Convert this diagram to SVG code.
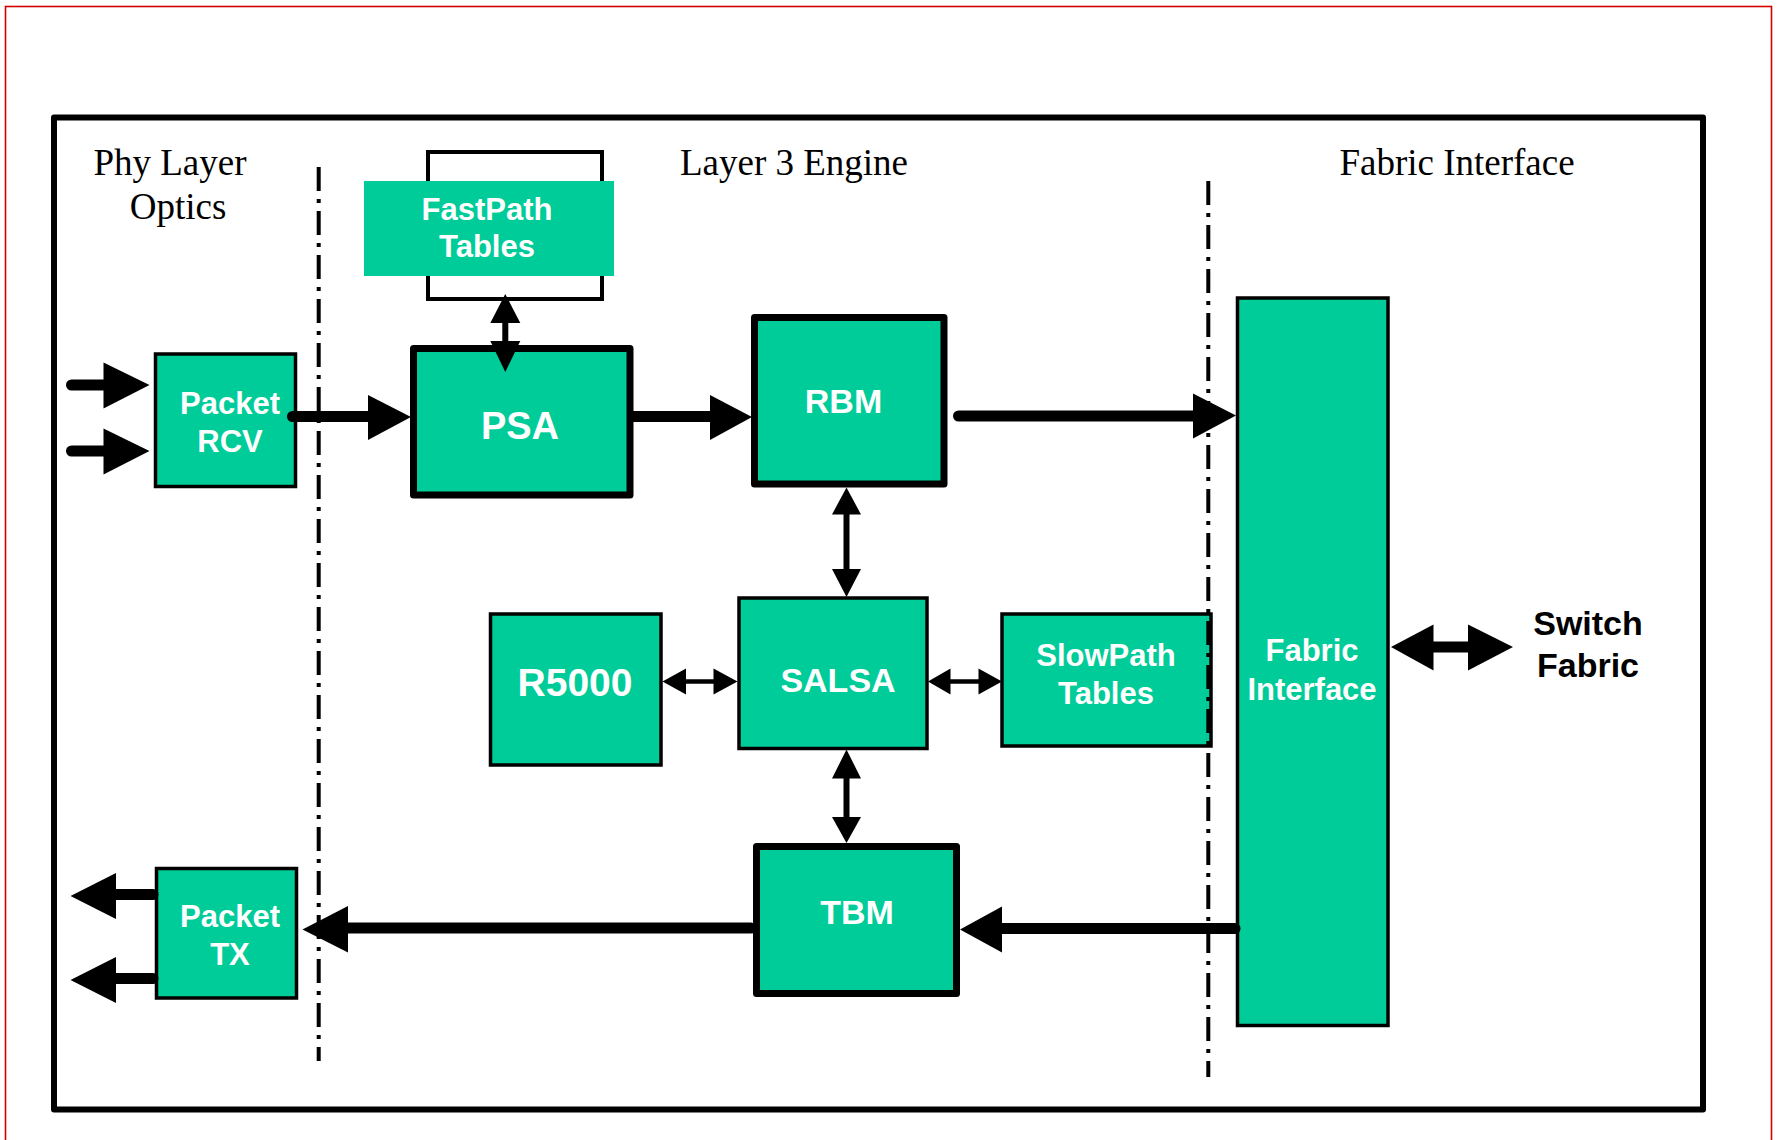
<svg xmlns="http://www.w3.org/2000/svg" width="1784" height="1140" viewBox="0 0 1784 1140">
  <style>
    .blk { fill: #00cc99; stroke: #000; stroke-width: 3.5; }
    .blk-thick { fill: #00cc99; stroke: #000; stroke-width: 7; stroke-linejoin: round; }
    .lbl { font-family: "Liberation Sans", Arial, sans-serif; font-weight: bold; fill: #fff; text-anchor: middle; }
    .hdr { font-family: "Liberation Serif", "Times New Roman", serif; font-size: 37px; fill: #000; text-anchor: middle; }
    .ext { font-family: "Liberation Sans", Arial, sans-serif; font-weight: bold; font-size: 34px; fill: #000; text-anchor: middle; }
    .divider { stroke: #000; stroke-width: 4; stroke-dasharray: 24 8 4 8; fill: none; }
    .wire { stroke: #000; stroke-width: 11; stroke-linecap: round; fill: none; }
    .wire-mid { stroke: #000; stroke-width: 6; fill: none; }
    .wire-thin { stroke: #000; stroke-width: 4.5; fill: none; }
    .head { fill: #000; stroke: none; }
  </style>

  <rect width="1784" height="1140" fill="#fff"/>

  <!-- page border -->
  <rect x="5.5" y="6.5" width="1766" height="1150" fill="none" stroke="#d40000" stroke-width="1.6"/>

  <!-- line card frame -->
  <rect x="54" y="117.5" width="1649" height="992" fill="none" stroke="#000" stroke-width="6" stroke-linejoin="round"/>

  <!-- section headings -->
  <g id="headings">
    <text class="hdr" x="170" y="175">Phy Layer</text>
    <text class="hdr" x="178" y="219">Optics</text>
    <text class="hdr" x="794" y="175">Layer 3 Engine</text>
    <text class="hdr" x="1457" y="175">Fabric Interface</text>
  </g>

  <!-- blocks -->
  <g id="fastpath-tables">
    <rect x="428" y="152" width="174" height="147" fill="#fff" stroke="#000" stroke-width="4"/>
    <rect x="364" y="181" width="250" height="95" fill="#00cc99"/>
    <text class="lbl" font-size="31" x="487" y="220">FastPath</text>
    <text class="lbl" font-size="31" x="487" y="256.5">Tables</text>
  </g>

  <g id="packet-rcv">
    <rect class="blk" x="155.5" y="354" width="140" height="132.5"/>
    <text class="lbl" font-size="31" x="230" y="414">Packet</text>
    <text class="lbl" font-size="31" x="230" y="452">RCV</text>
  </g>

  <g id="psa">
    <rect class="blk-thick" x="413.5" y="348.5" width="216.5" height="146.5"/>
    <text class="lbl" font-size="38" x="520" y="439">PSA</text>
  </g>

  <g id="rbm">
    <rect class="blk-thick" x="754.5" y="317.5" width="189.5" height="166.5"/>
    <text class="lbl" font-size="34" x="843.5" y="413">RBM</text>
  </g>

  <g id="r5000">
    <rect class="blk" x="490.5" y="614" width="170.5" height="151"/>
    <text class="lbl" font-size="39" x="575" y="696">R5000</text>
  </g>

  <g id="salsa">
    <rect class="blk" x="739" y="598" width="188" height="150.5"/>
    <text class="lbl" font-size="34" x="838" y="692">SALSA</text>
  </g>

  <g id="slowpath-tables">
    <rect class="blk" x="1002" y="614" width="209" height="132"/>
    <text class="lbl" font-size="31" x="1106" y="666">SlowPath</text>
    <text class="lbl" font-size="31" x="1106" y="703.5">Tables</text>
  </g>

  <g id="tbm">
    <rect class="blk-thick" x="756.5" y="846.5" width="200" height="147"/>
    <text class="lbl" font-size="34" x="857" y="923.5">TBM</text>
  </g>

  <g id="packet-tx">
    <rect class="blk" x="156.5" y="868.5" width="140" height="129.5"/>
    <text class="lbl" font-size="31" x="230" y="927">Packet</text>
    <text class="lbl" font-size="31" x="230" y="965">TX</text>
  </g>

  <g id="fabric-interface">
    <rect class="blk" x="1237.5" y="298" width="150.5" height="727.5"/>
    <text class="lbl" font-size="31" x="1312" y="661">Fabric</text>
    <text class="lbl" font-size="31" x="1312" y="700">Interface</text>
  </g>

  <g id="switch-fabric">
    <text class="ext" x="1588" y="635">Switch</text>
    <text class="ext" x="1588" y="677">Fabric</text>
  </g>

  <!-- section dividers -->
  <g id="dividers">
    <line class="divider" x1="318.7" y1="167" x2="318.7" y2="1061"/>
    <line class="divider" x1="1208.3" y1="181" x2="1208.3" y2="1077"/>
  </g>

  <!-- connectors -->
  <g id="connectors">
    <!-- optics into Packet RCV -->
    <line class="wire" x1="71.5" y1="385" x2="104" y2="385"/>
    <polygon class="head" points="103.5,362.5 149.5,385 103.5,408.5"/>
    <line class="wire" x1="71.5" y1="451" x2="104" y2="451"/>
    <polygon class="head" points="103.5,428.5 149.5,451 103.5,474.5"/>

    <!-- Packet RCV to PSA -->
    <line class="wire" x1="292.5" y1="416.5" x2="369" y2="416.5"/>
    <polygon class="head" points="368,395 411,417 368,440"/>

    <!-- PSA to RBM -->
    <line class="wire" x1="633" y1="416.5" x2="711" y2="416.5" stroke-linecap="butt"/>
    <polygon class="head" points="710,395 752,417 710,440"/>

    <!-- RBM to Fabric Interface -->
    <line class="wire" x1="958.5" y1="416" x2="1194" y2="416"/>
    <polygon class="head" points="1193,393.5 1236,415.5 1193,438.5"/>

    <!-- FastPath Tables <-> PSA -->
    <line class="wire-mid" x1="505.3" y1="320" x2="505.3" y2="344"/>
    <polygon class="head" points="490.3,323 505.3,294 520.3,323"/>
    <polygon class="head" points="490.3,341 520.3,341 505.3,372"/>

    <!-- RBM <-> SALSA -->
    <line class="wire-mid" x1="846.5" y1="512" x2="846.5" y2="571"/>
    <polygon class="head" points="832,514.5 846.5,487.5 861,514.5"/>
    <polygon class="head" points="832,569 861,569 846.5,597"/>

    <!-- SALSA <-> TBM -->
    <line class="wire-mid" x1="846.5" y1="776" x2="846.5" y2="819"/>
    <polygon class="head" points="832,778.5 846.5,749.5 861,778.5"/>
    <polygon class="head" points="832,817 861,817 846.5,843"/>

    <!-- R5000 <-> SALSA -->
    <line class="wire-thin" x1="684" y1="681.5" x2="716" y2="681.5"/>
    <polygon class="head" points="686,668.5 662.5,681.5 686,694.5"/>
    <polygon class="head" points="713.5,668.5 737.5,681.5 713.5,694.5"/>

    <!-- SALSA <-> SlowPath Tables -->
    <line class="wire-thin" x1="948" y1="681.5" x2="981" y2="681.5"/>
    <polygon class="head" points="950.5,668.5 928,681.5 950.5,694.5"/>
    <polygon class="head" points="978.5,668.5 1002,681.5 978.5,694.5"/>

    <!-- Fabric Interface to TBM -->
    <line class="wire" x1="1001" y1="928.5" x2="1235" y2="928.5"/>
    <polygon class="head" points="1002,906.5 960,929.5 1002,952.5"/>

    <!-- TBM to Packet TX -->
    <line class="wire" x1="347" y1="928" x2="751" y2="928"/>
    <polygon class="head" points="348,906 302.5,929.5 348,952.5"/>

    <!-- Packet TX out to optics -->
    <line class="wire" x1="115" y1="894.5" x2="153" y2="894.5"/>
    <polygon class="head" points="116,873 70.5,896 116,919"/>
    <line class="wire" x1="115" y1="978.5" x2="153" y2="978.5"/>
    <polygon class="head" points="116,957 70.5,980 116,1003"/>

    <!-- Fabric Interface <-> Switch Fabric -->
    <line class="wire" x1="1432" y1="647" x2="1470" y2="647" stroke-linecap="butt"/>
    <polygon class="head" points="1433.5,624.5 1391,647 1433.5,670.5"/>
    <polygon class="head" points="1468,624.5 1513,647 1468,670.5"/>
  </g>
</svg>
